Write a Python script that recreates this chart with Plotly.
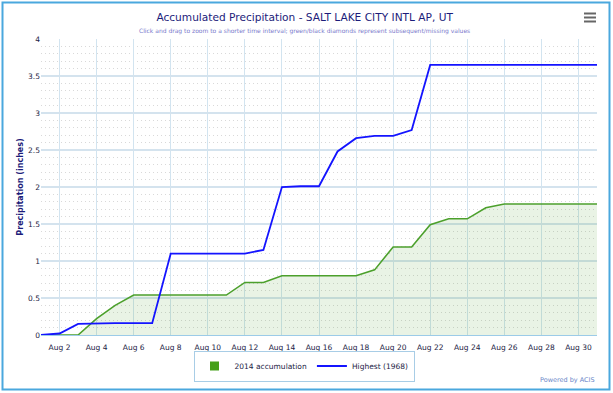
import plotly.graph_objects as go
import pandas as pd

dates = pd.date_range("2014-08-01", "2014-08-31", freq="D")

acc_2014 = [0.00, 0.00, 0.00, 0.22, 0.40, 0.54, 0.54, 0.54, 0.54, 0.54,
            0.54, 0.71, 0.71, 0.80, 0.80, 0.80, 0.80, 0.80, 0.88, 1.19,
            1.19, 1.49, 1.57, 1.57, 1.72, 1.77, 1.77, 1.77, 1.77, 1.77, 1.77]

highest_1968 = [0.00, 0.02, 0.15, 0.16, 0.16, 0.16, 0.16, 1.10, 1.10, 1.10,
                1.10, 1.10, 1.15, 2.00, 2.01, 2.01, 2.48, 2.66, 2.69, 2.69,
                2.77, 3.65, 3.65, 3.65, 3.65, 3.65, 3.65, 3.65, 3.65, 3.65, 3.65]

y_ticks = [0, 0.5, 1, 1.5, 2, 2.5, 3, 3.5, 4]
y_tick_labels = ["0", "0.5", "1", "1.5", "2", "2.5", "3", "3.5", "4"]

W, H = 613, 393
L, R, T, B = 41, 16, 39, 58
PW, PH = W - L - R, H - T - B

def px(x):
    return (x - L) / PW

def py(y):
    return (H - B - y) / PH

FONT = "DejaVu Sans"
NAVY = "#1c1c7a"

fig = go.Figure()

fig.add_trace(go.Scatter(
    x=dates, y=acc_2014, mode="lines", name="2014 accumulation",
    line=dict(color="#4ca02c", width=1.6),
    fill="tozeroy", fillcolor="rgba(76,160,44,0.12)",
    showlegend=False, hoverinfo="x+y"))

fig.add_trace(go.Scatter(
    x=[None], y=[None], mode="markers", name="2014 accumulation",
    marker=dict(symbol="square", size=9, color="#45a019")))

fig.add_trace(go.Scatter(
    x=dates, y=highest_1968, mode="lines", name="Highest (1968)",
    line=dict(color="#1414ff", width=1.8)))

fig.update_layout(
    width=W, height=H,
    margin=dict(l=L, r=R, t=T, b=B, autoexpand=False),
    paper_bgcolor="white", plot_bgcolor="white",
    font=dict(family=FONT, size=8, color="#222"),
    title=dict(text="Accumulated Precipitation - SALT LAKE CITY INTL AP, UT",
               x=0.497, xanchor="center", y=1 - 17 / H, yanchor="middle",
               font=dict(family=FONT, size=10.6, color=NAVY)),
    legend=dict(orientation="h", x=px(304), xanchor="center", y=py(366), yanchor="middle",
                bordercolor="#a8cde6", borderwidth=1, bgcolor="white",
                font=dict(family=FONT, size=7.5, color="#222244"),
                itemwidth=30, tracegroupgap=0, valign="middle"),
    showlegend=True,
)

fig.update_xaxes(
    type="date", range=["2014-08-01", "2014-08-31"],
    tick0="2014-08-02", dtick=2 * 86400000, tickformat="%b %-d",
    showgrid=True, gridcolor="#d2e4f0", gridwidth=1.2,
    showline=True, linecolor="#9ccbe8", linewidth=1.2,
    ticks="", ticklabelstandoff=5,
    tickfont=dict(family=FONT, size=7.5, color="#222244"),
    zeroline=False, automargin=False,
)

fig.update_yaxes(
    range=[0, 4], tickmode="array", tickvals=y_ticks, ticktext=y_tick_labels,
    showgrid=True, gridcolor="#d4e3ee", gridwidth=1.5,
    minor=dict(tickmode="linear", tick0=0, dtick=0.1, showgrid=True,
               gridcolor="#d9d9d9", griddash="1px,3px", gridwidth=1),
    zeroline=False, showline=False, ticks="", automargin=False,
    tickfont=dict(family=FONT, size=7.5, color="#222244"),
    title=dict(text="<b>Precipitation (inches)</b>", standoff=3,
               font=dict(family=FONT, size=8, color=NAVY)),
)

shapes = []
shapes.append(dict(type="rect", xref="paper", yref="paper",
                   x0=px(2.5), x1=px(609.5), y0=py(389.5), y1=py(2.5),
                   line=dict(color="#4aa8de", width=2), fillcolor="rgba(0,0,0,0)",
                   layer="above"))
for yy in (13.5, 17.5, 21.5):
    shapes.append(dict(type="rect", xref="paper", yref="paper",
                       x0=px(584), x1=px(596), y0=py(yy + 1), y1=py(yy - 1),
                       line=dict(width=0), fillcolor="#666666"))
fig.update_layout(shapes=shapes)

fig.add_annotation(
    text="Click and drag to zoom to a shorter time interval; green/black diamonds represent subsequent/missing values",
    xref="paper", yref="paper", x=px(304), y=py(31), xanchor="center", yanchor="middle",
    showarrow=False, font=dict(family=FONT, size=6, color="#7a7acc"))

fig.add_annotation(
    text="Powered by ACIS", xref="paper", yref="paper", x=px(597), y=py(380),
    xanchor="right", yanchor="middle", showarrow=False,
    font=dict(family=FONT, size=6.5, color="#6a86c8"))

fig.write_html("out.html", config={"displayModeBar": False},
               post_script="document.body.style.margin='0';")
